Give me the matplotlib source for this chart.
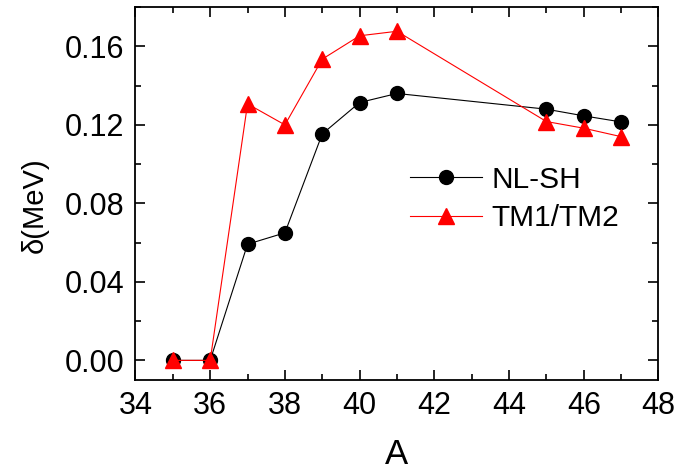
import matplotlib.pyplot as plt
from matplotlib.ticker import MultipleLocator

plt.rcParams['font.family'] = ['Liberation Sans', 'DejaVu Sans']

# mass number A
A_values = [35, 36, 37, 38, 39, 40, 41, 45, 46, 47]
# pairing gap delta (MeV)
delta_nlsh = [0.0, 0.0, 0.0592, 0.065, 0.1154, 0.1314, 0.136, 0.128, 0.1246, 0.1215]
delta_tm = [0.0, 0.0, 0.1307, 0.12, 0.1535, 0.1654, 0.1677, 0.1217, 0.1183, 0.114]

fig = plt.figure(figsize=(6.76, 4.72), dpi=100)
ax = fig.add_axes([0.2004, 0.1949, 0.7737, 0.790])

ax.plot(A_values, delta_nlsh, color='black', lw=0.8, marker='o', ms=10,
        markerfacecolor='black', markeredgecolor='black', label='NL-SH')
ax.plot(A_values, delta_tm, color='red', lw=0.8, marker='^', ms=11,
        markerfacecolor='red', markeredgecolor='red', label='TM1/TM2')

ax.set_xlim(34, 48)
ax.set_ylim(-0.01, 0.18)
ax.xaxis.set_major_locator(MultipleLocator(2))
ax.xaxis.set_minor_locator(MultipleLocator(1))
ax.yaxis.set_major_locator(MultipleLocator(0.04))
ax.yaxis.set_minor_locator(MultipleLocator(0.02))
ax.yaxis.set_major_formatter(plt.FuncFormatter(lambda v, p: f"{v:.2f}"))

ax.tick_params(which='both', direction='in', top=True, right=True, width=1.2)
ax.tick_params(which='major', length=7, labelsize=22, pad=8)
ax.tick_params(which='minor', length=4)
for s in ax.spines.values():
    s.set_linewidth(1.3)

ax.set_xlabel('A', fontsize=25, labelpad=12)
ax.set_ylabel('δ(MeV)', fontsize=21)
ax.yaxis.set_label_coords(-0.165, 0.47)

ax.legend(loc='center left', bbox_to_anchor=(0.502, 0.485), frameon=False,
          fontsize=21.5, handlelength=2.4, handletextpad=0.33, labelspacing=0.35,
          borderaxespad=0)

fig.savefig('out.png', dpi=100)
